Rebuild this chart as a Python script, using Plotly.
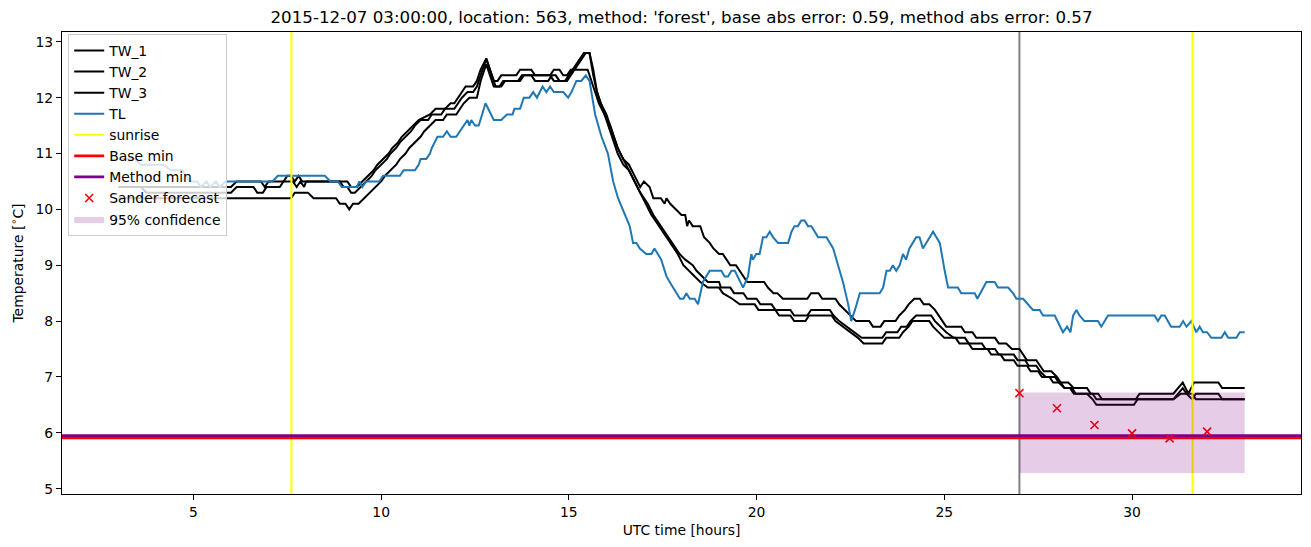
import plotly.graph_objects as go

# ---------------- data ----------------
tw1_t = [3.0, 6.0, 6.15, 6.8, 6.9, 7.0, 7.4, 7.5, 7.6, 7.7, 7.8, 7.9, 9.1, 9.2, 9.35, 9.5, 9.65, 9.8, 9.9, 10.05,
         10.2, 10.3, 10.45, 10.55, 10.7, 10.85, 11.0, 11.3, 11.45, 11.7, 11.85, 11.95, 12.05, 12.15, 12.25, 12.45,
         12.55, 12.65, 12.8, 12.9, 13.0, 13.1, 13.2, 13.6, 13.7, 14.0, 14.1, 14.5, 14.6, 14.75, 14.85, 14.95, 15.05,
         15.5, 15.6, 15.7, 15.8, 15.95, 16.1, 16.2, 16.3, 16.45, 16.6, 16.75, 16.9, 17.0, 17.15, 17.25, 17.45, 17.55,
         17.6, 17.7, 17.85, 18.0, 18.1, 18.15, 18.2, 18.3, 18.5, 18.6, 18.75, 18.85, 19.0, 19.1, 19.2, 19.3, 19.45,
         19.55, 19.65, 19.75, 20.2, 20.3, 20.45, 20.55, 20.7, 21.35, 21.45, 21.65, 21.75, 22.1, 22.2, 22.35, 22.5,
         22.65, 23.0, 23.1, 23.3, 23.4, 23.7, 23.8, 23.95, 24.05, 24.2, 24.35, 24.45, 24.6, 24.75, 24.85, 24.95,
         25.05, 25.45, 25.55, 25.75, 25.85, 26.35, 26.45, 26.65, 26.8, 27.0, 27.1, 27.2, 27.45, 27.55, 27.65, 27.85,
         28.0, 28.1, 28.3, 28.45, 28.8, 28.9, 29.1, 29.2, 30.1, 30.2, 31.1, 31.35, 31.5, 31.65, 32.3, 32.4, 33.0]
tw1_v = [10.4, 10.4, 10.5, 10.5, 10.4, 10.5, 10.5, 10.6, 10.6, 10.5, 10.6, 10.5, 10.5, 10.4, 10.4, 10.5, 10.6, 10.7,
         10.8, 10.9, 11.0, 11.1, 11.2, 11.3, 11.4, 11.5, 11.6, 11.7, 11.8, 11.8, 11.9, 11.9, 12.0, 12.1, 12.2, 12.2,
         12.3, 12.5, 12.7, 12.5, 12.3, 12.3, 12.4, 12.4, 12.5, 12.5, 12.4, 12.4, 12.5, 12.5, 12.4, 12.4, 12.5, 12.5,
         12.3, 12.1, 11.9, 11.7, 11.5, 11.3, 11.1, 10.9, 10.8, 10.6, 10.4, 10.5, 10.4, 10.2, 10.2, 10.1, 10.2, 10.1,
         10.0, 9.9, 9.9, 9.7, 9.8, 9.7, 9.7, 9.5, 9.4, 9.3, 9.2, 9.2, 9.1, 9.0, 9.0, 8.9, 8.8, 8.7, 8.7, 8.6, 8.5,
         8.5, 8.4, 8.4, 8.5, 8.5, 8.4, 8.4, 8.3, 8.2, 8.1, 8.0, 8.0, 7.9, 7.9, 8.0, 8.0, 8.1, 8.2, 8.3, 8.4, 8.4, 8.3,
         8.3, 8.2, 8.1, 8.0, 7.9, 7.9, 7.8, 7.8, 7.7, 7.7, 7.6, 7.6, 7.5, 7.5, 7.4, 7.3, 7.3, 7.2, 7.1, 7.1, 7.0,
         6.9, 6.9, 6.8, 6.8, 6.7, 6.7, 6.6, 6.6, 6.7, 6.7, 6.9, 6.7, 6.9, 6.9, 6.8, 6.8]

tw2_t = [3.0, 3.6, 3.75, 6.0, 6.15, 6.6, 6.7, 6.85, 6.95, 7.3, 7.4, 7.65, 7.75, 7.85, 7.95, 8.0, 8.9, 9.0, 9.1, 9.2,
         9.3, 9.45, 9.6, 9.75, 9.85, 10.0, 10.15, 10.25, 10.4, 10.5, 10.65, 10.8, 10.9, 11.05, 11.25, 11.35, 11.6,
         11.7, 11.95, 12.05, 12.15, 12.3, 12.45, 12.55, 12.7, 12.8, 12.95, 13.05, 13.2, 13.3, 13.65, 13.75, 14.5,
         14.6, 14.95, 15.05, 15.15, 15.25, 15.35, 15.45, 15.55, 15.65, 15.75, 15.85, 16.0, 16.1, 16.2, 16.3, 16.45,
         16.6, 16.75, 16.9, 17.1, 17.25, 17.35, 17.45, 17.55, 17.75, 17.85, 17.95, 18.1, 18.3, 18.4, 18.55, 18.7,
         19.0, 19.05, 19.3, 19.4, 19.65, 19.75, 20.0, 20.1, 20.4, 20.5, 20.9, 21.0, 21.35, 21.45, 21.95, 22.05, 22.2,
         22.4, 22.6, 22.8, 23.35, 23.45, 23.75, 23.85, 24.0, 24.1, 24.25, 24.65, 24.75, 24.9, 25.05, 25.25, 25.55,
         25.65, 26.0, 26.1, 26.35, 26.45, 26.85, 26.95, 27.15, 27.25, 27.45, 27.55, 27.7, 27.95, 28.05, 28.2, 28.4,
         28.5, 28.95, 29.05, 31.1, 31.35, 31.45, 31.6, 31.7, 32.3, 32.4, 33.0]
tw2_v = [10.4, 10.4, 10.3, 10.3, 10.4, 10.4, 10.3, 10.3, 10.4, 10.4, 10.5, 10.5, 10.4, 10.5, 10.4, 10.5, 10.5, 10.4,
         10.4, 10.3, 10.3, 10.4, 10.5, 10.6, 10.7, 10.8, 10.9, 11.0, 11.1, 11.2, 11.3, 11.4, 11.5, 11.6, 11.6, 11.7,
         11.7, 11.8, 11.8, 11.9, 12.0, 12.1, 12.1, 12.2, 12.5, 12.7, 12.4, 12.2, 12.2, 12.3, 12.3, 12.4, 12.4, 12.3,
         12.3, 12.4, 12.5, 12.6, 12.7, 12.8, 12.8, 12.5, 12.1, 11.9, 11.7, 11.5, 11.3, 11.1, 10.9, 10.7, 10.5, 10.3,
         10.1, 9.9, 9.8, 9.7, 9.6, 9.4, 9.3, 9.2, 9.1, 9.0, 8.9, 8.8, 8.7, 8.7, 8.6, 8.6, 8.5, 8.5, 8.4, 8.4, 8.3,
         8.3, 8.2, 8.2, 8.1, 8.1, 8.2, 8.2, 8.1, 8.0, 7.9, 7.8, 7.7, 7.7, 7.8, 7.8, 7.9, 7.9, 8.0, 8.1, 8.1, 8.0,
         7.9, 7.8, 7.7, 7.7, 7.6, 7.6, 7.5, 7.5, 7.4, 7.4, 7.3, 7.3, 7.2, 7.2, 7.1, 7.0, 7.0, 6.9, 6.8, 6.8, 6.7,
         6.7, 6.6, 6.6, 6.8, 6.7, 6.6, 6.7, 6.7, 6.6, 6.6]

tw3_t = [3.0, 7.6, 7.7, 8.05, 8.2, 8.8, 8.9, 9.05, 9.15, 9.25, 9.4, 9.55, 9.7, 9.85, 10.0, 10.1, 10.25, 10.4, 10.5,
         10.65, 10.75, 10.9, 11.05, 11.15, 11.3, 11.45, 11.65, 11.75, 12.0, 12.1, 12.2, 12.35, 12.55, 12.65, 12.8,
         12.9, 13.0, 13.15, 13.25, 13.7, 13.8, 14.0, 14.1, 14.45, 14.55, 14.65, 14.75, 14.9, 15.0, 15.1, 15.2, 15.3,
         15.4, 15.55, 15.65, 15.75, 15.85, 16.0, 16.1, 16.2, 16.3, 16.45, 16.6, 16.75, 16.9, 17.05, 17.2, 17.3, 17.4,
         17.5, 17.7, 17.8, 17.9, 18.05, 18.2, 18.35, 18.5, 18.7, 19.0, 19.1, 19.35, 19.55, 19.95, 20.05, 20.5, 20.6,
         20.9, 21.0, 21.3, 21.4, 22.0, 22.1, 22.3, 22.5, 22.7, 22.85, 23.35, 23.45, 23.8, 23.9, 24.05, 24.15, 24.6,
         24.7, 24.85, 25.0, 25.3, 25.4, 25.65, 25.75, 26.15, 26.25, 26.5, 26.6, 26.85, 26.95, 27.2, 27.3, 27.5, 27.6,
         27.8, 27.9, 28.1, 28.2, 28.35, 28.45, 28.8, 28.95, 29.05, 30.05, 30.15, 31.1, 31.3, 31.6, 31.7, 33.0]
tw3_v = [10.2, 10.2, 10.3, 10.3, 10.2, 10.2, 10.1, 10.1, 10.0, 10.1, 10.1, 10.2, 10.3, 10.4, 10.5, 10.6, 10.7, 10.8,
         10.9, 11.0, 11.1, 11.2, 11.3, 11.4, 11.5, 11.6, 11.6, 11.7, 11.7, 11.8, 11.9, 12.0, 12.0, 12.3, 12.6, 12.4,
         12.2, 12.2, 12.3, 12.3, 12.4, 12.4, 12.3, 12.3, 12.4, 12.4, 12.3, 12.3, 12.4, 12.5, 12.6, 12.7, 12.8, 12.8,
         12.4, 12.1, 11.9, 11.6, 11.4, 11.2, 11.0, 10.8, 10.7, 10.5, 10.3, 10.1, 9.9, 9.8, 9.7, 9.6, 9.4, 9.3, 9.2,
         9.0, 8.9, 8.8, 8.7, 8.6, 8.6, 8.5, 8.4, 8.3, 8.3, 8.2, 8.2, 8.1, 8.1, 8.0, 8.0, 8.1, 8.1, 8.0, 7.9, 7.8,
         7.7, 7.6, 7.6, 7.7, 7.7, 7.8, 7.9, 8.0, 8.0, 7.9, 7.8, 7.7, 7.7, 7.6, 7.6, 7.5, 7.5, 7.4, 7.4, 7.3, 7.3,
         7.2, 7.2, 7.1, 7.1, 7.0, 7.0, 6.9, 6.9, 6.8, 6.8, 6.7, 6.7, 6.6, 6.5, 6.5, 6.6, 6.6, 6.7, 6.7, 6.6, 6.6]

tl_t = [3.0, 3.45, 3.6, 4.2, 4.4, 4.7, 4.9, 5.1, 5.2, 5.35, 5.45, 5.6, 5.7, 5.85, 7.1, 7.25, 8.5, 8.65, 8.85, 8.95,
        9.35, 9.42, 9.5, 9.6, 9.95, 10.05, 10.5, 10.6, 10.9, 11.0, 11.05, 11.2, 11.3, 11.35, 11.5, 11.65, 11.75,
        11.85, 12.0, 12.1, 12.2, 12.3, 12.35, 12.4, 12.5, 12.6, 12.78, 13.0, 13.2, 13.35, 13.5, 13.55, 13.7, 13.8,
        13.95, 14.05, 14.15, 14.3, 14.4, 14.5, 14.6, 14.85, 14.98, 15.07, 15.2, 15.33, 15.45, 15.55, 15.7, 15.87,
        16.04, 16.18, 16.31, 16.49, 16.62, 16.71, 16.8, 16.89, 17.06, 17.2, 17.28, 17.46, 17.6, 17.73, 17.96, 18.05,
        18.13, 18.22, 18.35, 18.44, 18.57, 18.75, 19.06, 19.15, 19.24, 19.33, 19.42, 19.64, 19.77, 19.86, 19.9,
        19.99, 20.08, 20.17, 20.26, 20.35, 20.44, 20.57, 20.84, 20.93, 21.01, 21.1, 21.19, 21.28, 21.37, 21.46,
        21.64, 21.86, 22.04, 22.17, 22.3, 22.44, 22.52, 22.62, 22.75, 23.28, 23.37, 23.46, 23.55, 23.63, 23.72,
        23.81, 23.9, 23.98, 24.07, 24.16, 24.25, 24.34, 24.43, 24.7, 24.88, 25.01, 25.1, 25.36, 25.45, 25.81, 25.88,
        26.12, 26.34, 26.43, 26.7, 26.83, 26.92, 27.1, 27.23, 27.36, 27.54, 27.63, 27.94, 28.16, 28.27, 28.36, 28.43,
        28.52, 28.6, 28.73, 29.09, 29.18, 29.36, 30.6, 30.69, 30.78, 30.87, 31.04, 31.27, 31.36, 31.45, 31.58, 31.71,
        31.8, 31.89, 32.0, 32.11, 32.38, 32.47, 32.56, 32.78, 32.87, 33.0]
tl_v = [10.9, 10.9, 10.8, 10.8, 10.7, 10.7, 10.5, 10.5, 10.4, 10.5, 10.4, 10.5, 10.4, 10.5, 10.5, 10.6, 10.6, 10.5,
        10.5, 10.4, 10.4, 10.5, 10.4, 10.5, 10.5, 10.6, 10.6, 10.7, 10.7, 10.8, 10.9, 10.9, 11.0, 11.1, 11.3, 11.3,
        11.4, 11.3, 11.3, 11.4, 11.5, 11.6, 11.5, 11.6, 11.5, 11.5, 11.9, 11.6, 11.6, 11.7, 11.7, 11.8, 11.8, 12.0,
        12.0, 12.1, 12.0, 12.2, 12.1, 12.2, 12.1, 12.1, 12.0, 12.1, 12.3, 12.3, 12.4, 12.3, 11.7, 11.3, 11.0, 10.5,
        10.2, 9.9, 9.7, 9.4, 9.4, 9.3, 9.2, 9.2, 9.3, 9.1, 8.8, 8.65, 8.4, 8.4, 8.5, 8.4, 8.4, 8.3, 8.7, 8.9, 8.9,
        8.8, 8.8, 8.9, 8.9, 8.6, 8.8, 9.2, 9.1, 9.2, 9.2, 9.5, 9.5, 9.6, 9.5, 9.4, 9.4, 9.6, 9.7, 9.7, 9.8, 9.8,
        9.7, 9.7, 9.5, 9.5, 9.3, 9.0, 8.7, 8.3, 8.0, 8.2, 8.5, 8.5, 8.6, 8.9, 8.9, 9.0, 8.9, 9.0, 9.2, 9.1, 9.3,
        9.4, 9.5, 9.5, 9.3, 9.6, 9.4, 8.9, 8.6, 8.6, 8.5, 8.5, 8.4, 8.7, 8.7, 8.6, 8.6, 8.5, 8.4, 8.4, 8.3, 8.2,
        8.2, 8.1, 8.1, 7.8, 7.9, 7.8, 8.1, 8.2, 8.1, 8.0, 8.0, 7.9, 8.1, 8.1, 8.0, 8.1, 8.1, 7.9, 7.9, 8.0, 7.9,
        8.0, 7.8, 7.9, 7.8, 7.8, 7.7, 7.7, 7.8, 7.7, 7.7, 7.8, 7.8]

sunrise_hours = [7.61, 31.61]
forecast_start = 27.0
base_min = 5.91
method_min = 5.95
sander_hours = [27, 28, 29, 30, 31, 32]
sander_values = [6.71, 6.44, 6.14, 5.99, 5.90, 6.02]
conf_hours = [27.0, 33.0]
conf_low = 5.28
conf_high = 6.72

title_text = ("2015-12-07 03:00:00, location: 563, method: 'forest', "
              "base abs error: 0.59, method abs error: 0.57")

x_range = [1.5, 34.5]
y_range = [4.904, 13.176]

# ---------------- figure ----------------
FONT = "DejaVu Sans"
fig = go.Figure()

fig.add_trace(go.Scatter(x=[forecast_start, forecast_start], y=y_range, mode="lines",
                         line=dict(color="#808080", width=2), showlegend=False, hoverinfo="skip"))

for name, t, v in [("TW_1", tw1_t, tw1_v), ("TW_2", tw2_t, tw2_v), ("TW_3", tw3_t, tw3_v)]:
    fig.add_trace(go.Scatter(x=t, y=v, mode="lines", name=name,
                             line=dict(color="black", width=2)))

fig.add_trace(go.Scatter(x=tl_t, y=tl_v, mode="lines", name="TL",
                         line=dict(color="#1f77b4", width=2)))

sx, sy = [], []
for h in sunrise_hours:
    sx += [h, h, None]
    sy += [y_range[0], y_range[1], None]
fig.add_trace(go.Scatter(x=sx, y=sy, mode="lines", name="sunrise",
                         line=dict(color="yellow", width=2)))

fig.add_trace(go.Scatter(x=x_range, y=[base_min, base_min], mode="lines", name="Base min",
                         line=dict(color="red", width=2.8)))
fig.add_trace(go.Scatter(x=x_range, y=[method_min, method_min], mode="lines", name="Method min",
                         line=dict(color="purple", width=2.8)))

fig.add_trace(go.Scatter(x=sander_hours, y=sander_values, mode="markers", name="Sander forecast",
                         marker=dict(symbol="x-thin", size=8, color="red",
                                     line=dict(color="red", width=1.6))))

fig.add_trace(go.Scatter(x=[conf_hours[0], conf_hours[1], conf_hours[1], conf_hours[0], conf_hours[0]],
                         y=[conf_low, conf_low, conf_high, conf_high, conf_low],
                         mode="lines", fill="toself", name="95% confidence",
                         fillcolor="rgba(128,0,128,0.2)", line=dict(width=0, color="rgba(0,0,0,0)")))

axis_common = dict(showline=True, mirror=True, linecolor="black", linewidth=1.1,
                   ticks="outside", ticklen=5, tickwidth=1.1, tickcolor="black",
                   showgrid=False, zeroline=False,
                   tickfont=dict(family=FONT, size=13.9, color="black"))

fig.update_layout(
    width=1311, height=547,
    margin=dict(l=62, r=10, t=32, b=53),
    paper_bgcolor="white", plot_bgcolor="white",
    font=dict(family=FONT, size=13.9, color="black"),
    title=dict(text=title_text, x=(62 + 1301) / 2 / 1311, xanchor="center",
               y=1 - 17 / 547, yanchor="middle",
               font=dict(family=FONT, size=16.7, color="black")),
    xaxis=dict(range=x_range, tickvals=[5, 10, 15, 20, 25, 30],
               title=dict(text="UTC time [hours]", standoff=6,
                          font=dict(family=FONT, size=13.9)), **axis_common),
    yaxis=dict(range=y_range, tickvals=[5, 6, 7, 8, 9, 10, 11, 12, 13],
               title=dict(text="Temperature [<sup>∘</sup>C]", standoff=8,
                          font=dict(family=FONT, size=13.9)), **axis_common),
    legend=dict(x=0.005, y=0.9957, xanchor="left", yanchor="top",
                bgcolor="rgba(255,255,255,0.8)", bordercolor="#cccccc", borderwidth=1,
                font=dict(family=FONT, size=13.9, color="black"),
                itemwidth=30, tracegroupgap=0),
    showlegend=True,
)

fig.write_html("out.html")
